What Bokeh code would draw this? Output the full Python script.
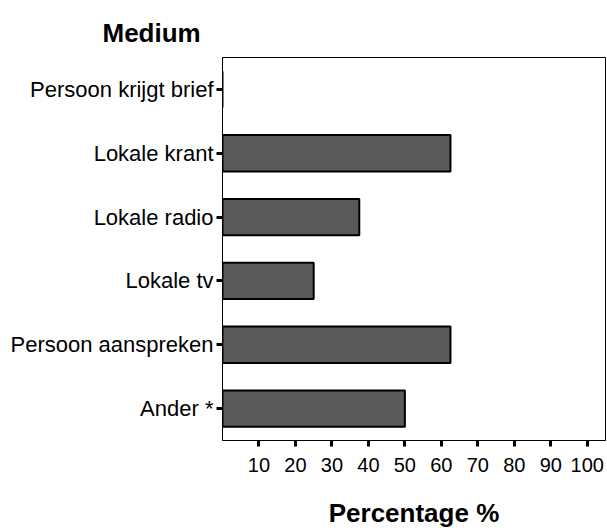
from bokeh.plotting import figure
from bokeh.models import FactorRange, Range1d, FixedTicker
from bokeh.embed import file_html
from bokeh.resources import INLINE

categories = ["Persoon krijgt brief", "Lokale krant", "Lokale radio",
              "Lokale tv", "Persoon aanspreken", "Ander *"]
percentages = [0, 62.5, 37.5, 25, 62.5, 50]
x_ticks = [10, 20, 30, 40, 50, 60, 70, 80, 90, 100]

FONT = "Liberation Sans"

p = figure(width=606, height=530, output_backend="svg", toolbar_location=None,
           y_range=FactorRange(factors=list(reversed(categories)), range_padding=0),
           x_range=Range1d(0, 105),
           min_border_left=222, min_border_right=1, min_border_top=57,
           min_border_bottom=87)

p.hbar(y=categories, right=percentages, left=0, height=0.57,
       fill_color="#5a5a5a", line_color="black", line_width=2)

p.xgrid.visible = False
p.ygrid.visible = False
p.outline_line_color = "black"
p.outline_line_width = 1

p.title.text = "Medium"
p.title.align = "left"
p.title.offset = -120
p.title.text_font = FONT
p.title.text_font_style = "bold"
p.title.text_font_size = "26px"
p.title.text_color = "black"
p.title.standoff = 19

xa = p.xaxis[0]
xa.ticker = FixedTicker(ticks=x_ticks)
xa.minor_tick_line_color = None
xa.major_tick_in = 0
xa.major_tick_out = 6
xa.major_tick_line_width = 3
xa.axis_line_color = "black"
xa.major_label_text_font = FONT
xa.major_label_text_font_size = "20px"
xa.major_label_text_color = "black"
xa.major_label_standoff = 11
xa.axis_label = "Percentage %"
xa.axis_label_text_font = FONT
xa.axis_label_text_font_style = "bold"
xa.axis_label_text_font_size = "26px"
xa.axis_label_text_color = "black"
xa.axis_label_standoff = 23

ya = p.yaxis[0]
ya.major_tick_in = 0
ya.major_tick_out = 6
ya.major_tick_line_width = 3
ya.axis_line_color = "black"
ya.major_label_text_font = FONT
ya.major_label_text_font_size = "22px"
ya.major_label_text_color = "black"
ya.major_label_standoff = 3

open("out.html", "w").write(file_html(p, INLINE))
